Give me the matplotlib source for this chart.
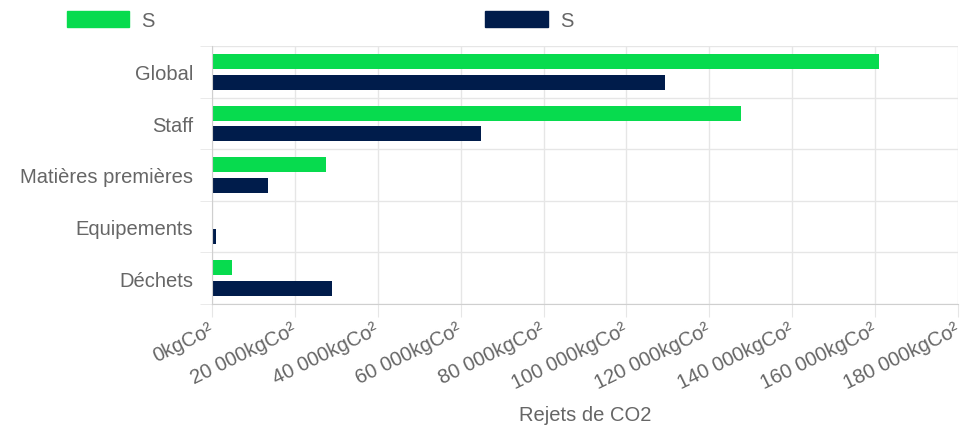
import numpy as np
import matplotlib.pyplot as plt
from matplotlib.patches import Patch

categories = ['Global', 'Staff', 'Matières premières', 'Equipements', 'Déchets']
serie_1 = [161000, 127700, 27500, 300, 4800]
serie_2 = [109200, 64800, 13500, 1000, 28900]
legend_labels = ['S', 'S']
x_ticks = [0, 20000, 40000, 60000, 80000, 100000, 120000, 140000, 160000, 180000]

green = '#07db4e'
navy = '#001c4b'
text_color = '#666666'
grid_color = '#e6e6e6'
fs = 14.5

plt.rcParams['font.family'] = ['Liberation Sans', 'DejaVu Sans']

fig = plt.figure(figsize=(9.66, 4.27), dpi=100)
ax = fig.add_axes([212 / 966, 1 - 305 / 427, (958 - 212) / 966, (305 - 47) / 427])

y = np.arange(len(categories))
h = 0.29
ax.barh(y - 0.2, serie_1, height=h, color=green)
ax.barh(y + 0.2, serie_2, height=h, color=navy)

ax.set_ylim(len(categories) - 0.5, -0.5)
ax.set_xlim(0, 180000)

# graduations x
ax.set_xticks(x_ticks)
ax.set_xticklabels([('{:,}'.format(v).replace(',', ' ') + 'kgCo²') for v in x_ticks],
                   rotation=26, ha='right', rotation_mode='anchor', va='center')
ax.tick_params(axis='x', length=9.5, color=grid_color, pad=8, labelsize=fs, labelcolor=text_color)

# graduations y : libellés au centre, lignes aux bords des catégories
ax.set_yticks(y)
ax.set_yticklabels(categories)
ax.set_yticks(np.arange(len(categories) + 1) - 0.5, minor=True)
ax.tick_params(axis='y', which='major', length=0, pad=13.7, labelsize=fs, labelcolor=text_color)
ax.tick_params(axis='y', which='minor', length=9, color=grid_color)

ax.grid(axis='x', which='major', color=grid_color, linewidth=1)
ax.grid(axis='y', which='minor', color=grid_color, linewidth=1)
ax.set_axisbelow(True)

for side in ['top', 'right']:
    ax.spines[side].set_visible(False)
ax.spines['left'].set_color('#cfcfcf')
ax.spines['bottom'].set_color('#cfcfcf')

ax.set_xlabel('Rejets de CO2', fontsize=fs, color=text_color, labelpad=9)

handles = [Patch(facecolor=green, edgecolor=green), Patch(facecolor=navy, edgecolor=navy)]
fig.legend(handles, legend_labels, loc='upper left', bbox_to_anchor=(67 / 966, 1 - 12 / 427),
           ncol=2, frameon=False, fontsize=fs, labelcolor=text_color,
           handlelength=3.1, handleheight=0.85, handletextpad=0.6, columnspacing=16.4,
           borderpad=0, borderaxespad=0)

plt.savefig('out.png', dpi=100, facecolor='white')
